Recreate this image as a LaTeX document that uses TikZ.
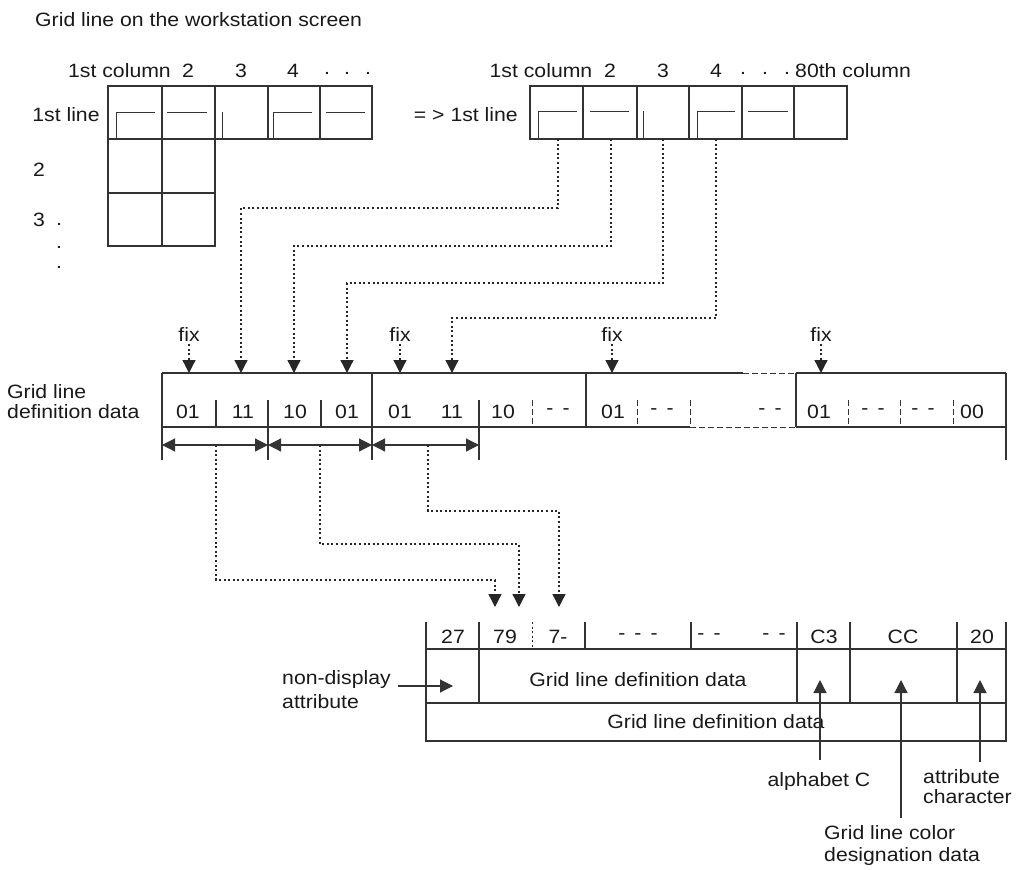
\documentclass[tikz,border=0pt]{standalone}
\usepackage{fontspec}
\setmainfont{Liberation Sans}[FakeStretch=1.1]
\usetikzlibrary{arrows.meta}
\begin{document}
\begin{tikzpicture}[x=1pt,y=-1pt,
  every node/.style={font=\fontsize{19.3}{21}\selectfont, inner sep=0pt, text=black!90},
  ln/.style={line width=1.2pt, draw=black!80},
  glyph/.style={line width=1pt, draw=black!80},
  dots/.style={line width=1.3pt, dash pattern=on 2pt off 2.6pt, draw=black!85},
  dsh/.style={line width=1pt, dash pattern=on 6pt off 3pt, draw=black!80},
  tip/.style={-{Triangle[length=13pt,width=13pt]}},
  dtip/.style={{Triangle[length=13pt,width=13pt]}-{Triangle[length=13pt,width=13pt]}},
  ]
\useasboundingbox (0,0) rectangle (1018,870);

% title
\node[anchor=west] (title) at (35,20) {Grid line on the workstation screen};

% ---------- left grid ----------
\draw[ln] (108,86) rectangle (372,139);
\foreach \x in {162,215,268,320} \draw[ln] (\x,86) -- (\x,139);
\draw[ln] (108,139) rectangle (215,246);
\draw[ln] (162,139) -- (162,246);
\draw[ln] (108,193) -- (215,193);
\draw[glyph] (116,139) -- (116,112) -- (155,112);
\draw[glyph] (167,112) -- (207,112);
\draw[glyph] (222,112) -- (222,139);
\draw[glyph] (273,139) -- (273,112) -- (312,112);
\draw[glyph] (326,112) -- (365,112);
\node (lc1) at (119.5,71) {1st column};
\node (lc2) at (188,71) {2};
\node (lc3) at (241,71) {3};
\node (lc4) at (293,71) {4};
\foreach \x [count=\i] in {327,347,368} \node (ld\i) at (\x,73) {.};
\node (ll1) at (66,115) {1st line};
\node (ll2) at (39,170) {2};
\node (ll3) at (39,220) {3};
\foreach \y [count=\i] in {224,247,267} \node (lv\i) at (59,\y) {.};

% ---------- right grid ----------
\draw[ln] (530,86) rectangle (847,139);
\foreach \x in {583,637,689,742,794} \draw[ln] (\x,86) -- (\x,139);
\draw[glyph] (538,139) -- (538,111) -- (577,111);
\draw[glyph] (590,111) -- (629,111);
\draw[glyph] (643,111) -- (643,139);
\draw[glyph] (697,139) -- (697,111) -- (735,111);
\draw[glyph] (748,111) -- (788,111);
\node (rc1) at (541,71) {1st column};
\node (rc2) at (610,71) {2};
\node (rc3) at (663,71) {3};
\node (rc4) at (716,71) {4};
\foreach \x [count=\i] in {743,765,787} \node (rd\i) at (\x,73) {.};
\node[anchor=west] (rc80) at (795,71) {80th column};
\node[anchor=east] (rl1) at (518,115) {= > 1st line};

% ---------- data row ----------
\node[anchor=west] (gl1) at (7,392) {Grid line};
\node[anchor=west] (gl2) at (7,412) {definition data};

\draw[ln] (162,373) -- (743,373);
\draw[dsh] (743,373) -- (796,373);
\draw[ln] (796,373) -- (1006,373);
\draw[ln] (162,427) -- (690,427);
\draw[dsh] (690,427) -- (796,427);
\draw[ln] (796,427) -- (1006,427);
\foreach \x in {162,372,1006} \draw[ln] (\x,373) -- (\x,460);
\foreach \x in {586,796} \draw[ln] (\x,373) -- (\x,427);
\foreach \x in {216,321} \draw[ln] (\x,400) -- (\x,427);
\foreach \x in {268,479} \draw[ln] (\x,400) -- (\x,460);
\foreach \x in {532,637,690,848,900,953} \draw[dsh] (\x,400) -- (\x,427);

\foreach \x/\t [count=\i] in {188/01,243/11,295/10,347/01,400/01,452/11,503/10,558/- \,-,613/01,662/- \,-,770/- \,-,819/01,873/- \,-,923/- \,-,972/00}
  \node (dv\i) at (\x,412) {\t};

% fix arrows
\foreach \x [count=\i] in {189,400,612,821} {
  \node (fix\i) at (\x,335) {fix};
  \draw[dots,tip] (fix\i.south) ++(0,2) -- (\x,373);
}

% dotted connectors from the screen cells
\coordinate (s1) at (558,139); \coordinate (t1) at (241,373);
\coordinate (s2) at (611,139); \coordinate (t2) at (294,373);
\coordinate (s3) at (663,139); \coordinate (t3) at (347,373);
\coordinate (s4) at (716,139); \coordinate (t4) at (452,373);
\draw[dots,tip] (s1) -- (558,208) -| (t1);
\draw[dots,tip] (s2) -- (611,246) -| (t2);
\draw[dots,tip] (s3) -- (663,283) -| (t3);
\draw[dots,tip] (s4) -- (716,318) -| (t4);

% byte span arrows
\coordinate (b0) at (162,445); \coordinate (b1) at (268,445);
\coordinate (b2) at (372,445); \coordinate (b3) at (479,445);
\draw[ln,dtip] (b0) -- (b1);
\draw[ln,dtip] (b1) -- (b2);
\draw[ln,dtip] (b2) -- (b3);

% dotted connectors to the bottom table
\coordinate (m1) at (216,445); \coordinate (e1) at (495,607);
\coordinate (m2) at (320,445); \coordinate (e2) at (519,607);
\coordinate (m3) at (428,445); \coordinate (e3) at (559,607);
\draw[dots,tip] (m1) -- (216,580) -| (e1);
\draw[dots,tip] (m2) -- (320,544) -| (e2);
\draw[dots,tip] (m3) -- (428,511) -| (e3);

% ---------- bottom table ----------
\draw[ln] (426,622) -- (426,741) -- (1006,741) -- (1006,622);
\draw[ln] (426,649) -- (1006,649);
\draw[ln] (426,703) -- (1006,703);
\foreach \x in {479,797,850,957} \draw[ln] (\x,622) -- (\x,703);
\foreach \x in {585,691} \draw[ln] (\x,622) -- (\x,649);
\draw[dots,line width=1pt] (532,622) -- (532,649);
\foreach \x/\t [count=\i] in {453/27,505/79,558/7-,638/- \,- \,-,709/- \,-,774/- \,-,824/C3,903/CC,982/20}
  \node (bt\i) at (\x,637) {\t};
\node (bdat) at (638,680) {Grid line definition data};
\node (bdat2) at (716,722) {Grid line definition data};

\node[anchor=west] (nd1) at (282,680) {non-display};
\node[anchor=west] (nd2) at (282,702) {attribute};
\draw[ln,tip] (398,686) -- (453,686);

\node (alpha) at (819,782) {alphabet C};
\node[anchor=west] (att1) at (923,777) {attribute};
\node[anchor=west] (att2) at (923,797) {character};
\node[anchor=west] (col1) at (824,833) {Grid line color};
\node[anchor=west] (col2) at (824,857) {designation data};
\draw[ln,tip] (820,760) -- (820,680);
\draw[ln,tip] (901,818) -- (901,680);
\draw[ln,tip] (980,762) -- (980,680);
\end{tikzpicture}
\end{document}
